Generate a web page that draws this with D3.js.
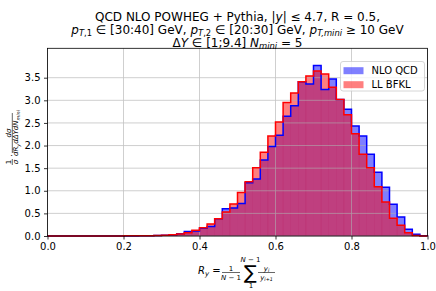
<!DOCTYPE html>
<meta charset="utf-8">
<script src="https://d3js.org/d3.v7.min.js"></script>
<style>
  body { margin: 0; background: #fff; }
  text { font-family: "DejaVu Sans", sans-serif; fill: #000; }
</style>
<div id="chart"></div>
<script>
// histogram bins, width 0.02 from 0 to 1
var binWidth = 0.02
var binLo = d3.range(50).map(function(i) { return +(i * binWidth).toFixed(2) })

// NLO QCD (blue) and LL BFKL (red) normalised distributions
var nloQCD = [0, 0, 0, 0, 0, 0, 0, 0, 0, 0,
  0, 0.002, 0.004, 0.006, 0.01, 0.015, 0.025, 0.05, 0.10, 0.11,
  0.17, 0.21, 0.38, 0.60, 0.62, 0.72, 1.18, 1.26, 1.68, 1.98,
  2.23, 2.65, 2.88, 3.41, 3.36, 3.77, 3.24, 3.47, 3.02, 2.80,
  2.43, 2.21, 1.81, 1.41, 1.08, 0.70, 0.42, 0.15, 0.04, 0.005]
var llBFKL = [0, 0, 0, 0, 0, 0, 0, 0, 0, 0,
  0.003, 0.004, 0.006, 0.008, 0.012, 0.017, 0.03, 0.045, 0.07, 0.125,
  0.18, 0.265, 0.38, 0.53, 0.71, 0.96, 1.20, 1.51, 1.85, 2.21,
  2.52, 2.95, 3.16, 3.41, 3.54, 3.65, 3.58, 3.29, 3.02, 2.68,
  2.26, 1.81, 1.51, 1.09, 0.75, 0.39, 0.24, 0.07, 0.01, 0.002]

var seriesNames = ["NLO QCD", "LL BFKL"]
var seriesColors = ["#0000ff", "#ff0000"]
var xTicks = [0, 0.2, 0.4, 0.6, 0.8, 1.0]
var yTicks = [0, 0.5, 1.0, 1.5, 2.0, 2.5, 3.0, 3.5]

var W = 436, H = 291
var m = {left: 47.5, right: 427.5, top: 48.3, bottom: 236}

var svg = d3.select("#chart").append("svg")
  .attr("width", W).attr("height", H)

var x = d3.scaleLinear().domain([0, 1]).range([m.left, m.right])
var y = d3.scaleLinear().domain([0, 4.15]).range([m.bottom, m.top])

// helper for small mathtext-like labels
function mathText(g, px, py, anchor, size, parts) {
  var t = g.append("text").attr("x", px).attr("y", py)
    .attr("text-anchor", anchor).style("font-size", size + "px")
  var shift = 0
  parts.forEach(function(p) {
    var want = p[1].indexOf("s") >= 0 ? size * 0.22 : 0
    var ts = t.append("tspan").text(p[0]).attr("dy", want - shift)
    shift = want
    if (p[1].indexOf("i") >= 0) ts.style("font-style", "oblique")
    if (p[1].indexOf("s") >= 0) ts.style("font-size", (size * 0.7) + "px")
  })
  return t
}

// bars (filled, alpha)
var all = [nloQCD, llBFKL]
all.forEach(function(vals, k) {
  svg.append("g").selectAll("rect")
    .data(vals)
    .enter().append("rect")
      .attr("x", function(d, i) { return x(binLo[i]) })
      .attr("y", function(d) { return y(d) })
      .attr("width", function(d, i) { return x(binLo[i] + binWidth) - x(binLo[i]) })
      .attr("height", function(d) { return y(0) - y(d) })
      .style("fill", seriesColors[k])
      .style("fill-opacity", 0.5)
      .style("stroke", seriesColors[k])
      .style("stroke-opacity", 0.12)
      .style("stroke-width", 0.5)
})

// grid
var grid = svg.append("g").style("stroke", "#b0b0b0").style("stroke-width", 0.8).style("opacity", 0.75)
xTicks.forEach(function(t) {
  grid.append("line").attr("x1", x(t)).attr("x2", x(t)).attr("y1", m.top).attr("y2", m.bottom)
})
yTicks.forEach(function(t) {
  grid.append("line").attr("x1", m.left).attr("x2", m.right).attr("y1", y(t)).attr("y2", y(t))
})

// step outlines
all.forEach(function(vals, k) {
  var pts = [[binLo[0], 0]]
  vals.forEach(function(v, i) {
    pts.push([binLo[i], v])
    pts.push([binLo[i] + binWidth, v])
  })
  pts.push([binLo[vals.length - 1] + binWidth, 0])
  var line = d3.line().x(function(d) { return x(d[0]) }).y(function(d) { return y(d[1]) })
  svg.append("path").attr("d", line(pts))
    .style("fill", "none").style("stroke", seriesColors[k]).style("stroke-width", 1.5)
})

// axes
var xAxis = svg.append("g").attr("transform", "translate(0," + m.bottom + ")")
  .call(d3.axisBottom(x).tickValues(xTicks).tickFormat(d3.format(".1f")).tickSizeOuter(0).tickSize(3.5).tickPadding(3.5))
var yAxis = svg.append("g").attr("transform", "translate(" + m.left + ",0)")
  .call(d3.axisLeft(y).tickValues(yTicks).tickFormat(d3.format(".1f")).tickSizeOuter(0).tickSize(3.5).tickPadding(3.5))
;[xAxis, yAxis].forEach(function(a) {
  a.select(".domain").remove()
  a.selectAll("text").style("font-size", "10px").style("font-family", "DejaVu Sans")
  a.selectAll("line").style("stroke", "#000").style("stroke-width", 0.8)
})

// frame
svg.append("rect").attr("x", m.left).attr("y", m.top)
  .attr("width", m.right - m.left).attr("height", m.bottom - m.top)
  .style("fill", "none").style("stroke", "#000").style("stroke-width", 0.8)

// legend
var lg = svg.append("g")
lg.append("rect").attr("x", 340.5).attr("y", 61.5).attr("width", 84).attr("height", 29.5)
  .attr("rx", 2.5).style("fill", "#fff").style("fill-opacity", 0.8)
  .style("stroke", "#cccccc").style("stroke-width", 0.8)
seriesNames.forEach(function(n, k) {
  var cy = 70.7 + k * 14
  lg.append("rect").attr("x", 343.5).attr("y", cy - 3.5).attr("width", 20).attr("height", 7)
    .style("fill", seriesColors[k]).style("fill-opacity", 0.5)
  lg.append("text").attr("x", 371.5).attr("y", cy + 3.6).style("font-size", "10px").text(n)
})

// title
var cx = (m.left + m.right) / 2
mathText(svg, cx, 20.5, "middle", 12, [["QCD NLO POWHEG + Pythia, |", ""], ["y", "i"], ["| \u2264 4.7, R = 0.5,", ""]])
mathText(svg, cx, 33.5, "middle", 12, [
  ["p", "i"], ["T", "si"], [",1", "s"], [" \u2208  [30:40] GeV, ", ""],
  ["p", "i"], ["T", "si"], [",2", "s"], [" \u2208  [20:30] GeV, ", ""],
  ["p", "i"], ["T,mini", "si"], [" \u2265 10 GeV", ""]])
mathText(svg, cx, 46.5, "middle", 12, [
  ["\u0394", ""], ["Y", "i"], [" \u2208  [1;9.4] ", ""], ["N", "i"], ["mini", "si"], [" = 5", ""]])

// x label: R_y = 1/(N-1) sum y_i/y_{i+1}
var xl = svg.append("g")
mathText(xl, 198, 273.5, "start", 10, [["R", "i"], ["y", "si"], [" =", ""]])
xl.append("line").attr("x1", 222).attr("x2", 240).attr("y1", 272.5).attr("y2", 272.5)
  .style("stroke", "#000").style("stroke-width", 0.6)
mathText(xl, 231, 270.5, "middle", 7, [["1", ""]])
mathText(xl, 231, 279.5, "middle", 7, [["N", "i"], [" \u2212 1", ""]])
mathText(xl, 250.5, 278.5, "middle", 19, [["\u2211", ""]])
mathText(xl, 250.5, 261.5, "middle", 7, [["N", "i"], [" \u2212 1", ""]])
mathText(xl, 251, 287.5, "middle", 7, [["1", ""]])
xl.append("line").attr("x1", 258).attr("x2", 275).attr("y1", 272.5).attr("y2", 272.5)
  .style("stroke", "#000").style("stroke-width", 0.6)
mathText(xl, 266.5, 270.5, "middle", 7, [["y", "i"], ["i", "si"]])
mathText(xl, 266.5, 279.5, "middle", 7, [["y", "i"], ["i+1", "si"]])

// y label: 1/sigma . dsigma/(dR_y dDeltaY dN_mini), rotated
var yl = svg.append("g").attr("transform", "translate(12.3,139) rotate(-90)")
yl.append("line").attr("x1", -26).attr("x2", -20).attr("y1", 0).attr("y2", 0)
  .style("stroke", "#000").style("stroke-width", 0.6)
mathText(yl, -23, -1.3, "middle", 7, [["1", ""]])
mathText(yl, -23, 5.8, "middle", 7, [["\u03c3", "i"]])
mathText(yl, -16.5, 2.3, "middle", 8, [["\u00b7", ""]])
yl.append("line").attr("x1", -14).attr("x2", 26).attr("y1", 0).attr("y2", 0)
  .style("stroke", "#000").style("stroke-width", 0.6)
mathText(yl, 6, -1.5, "middle", 7, [["d\u03c3", "i"]])
mathText(yl, 6, 6, "middle", 7, [["dR", "i"], ["y", "si"], ["d\u0394", "i"], ["Y", "i"], ["dN", "i"], ["mini", "si"]])
</script>
